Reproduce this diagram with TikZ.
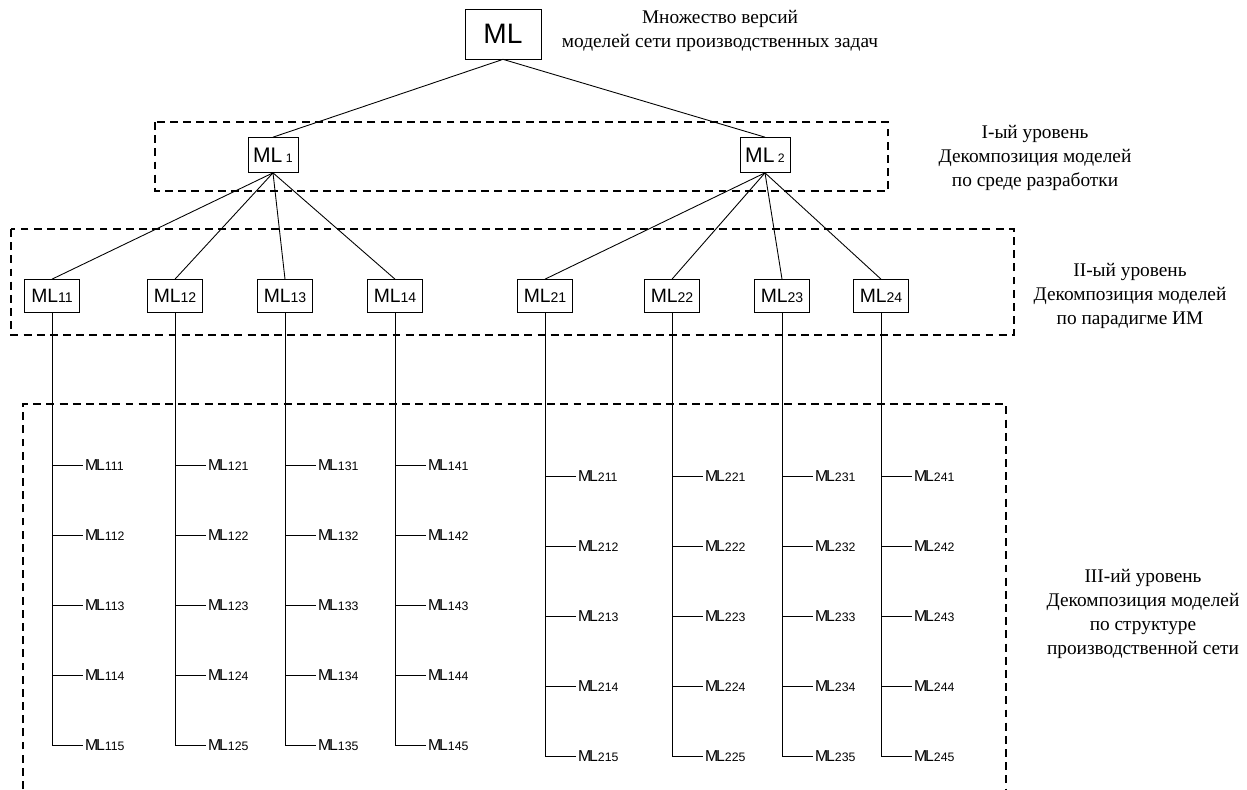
\documentclass[tikz,border=0pt]{standalone}
\usepackage{fontspec}
\setmainfont{Liberation Serif}
\setsansfont{Liberation Sans}
\usetikzlibrary{positioning}
\newcommand{\mlone}[1]{ML\,{\fontsize{7}{8}\selectfont #1}}
\newcommand{\mltwo}[1]{ML{\fontsize{8}{9}\selectfont #1}}
\newcommand{\mlleaf}[1]{M\kern-1.2pt L{\fontsize{7}{8}\selectfont #1}}

\begin{document}
\begin{tikzpicture}[x=0.02cm, y=-0.02cm,
    rootbox/.style={draw, font=\sffamily\fontsize{16}{18}\selectfont, minimum width=1.52cm, minimum height=1cm, inner sep=0pt},
    lvlone/.style={draw, font=\sffamily\fontsize{12}{14}\selectfont, minimum width=1cm, minimum height=0.7cm, inner sep=0pt},
    lvltwo/.style={draw, font=\sffamily\fontsize{11}{13}\selectfont, minimum width=1.1cm, minimum height=0.66cm, inner sep=0pt},
    leaf/.style={anchor=west, font=\sffamily\fontsize{9}{10}\selectfont, inner sep=1pt},
    note/.style={align=center, font=\fontsize{11}{13.5}\selectfont},
    levelbox/.style={line width=1.1pt, dash pattern=on 4.5pt off 3pt},
    link/.style={line width=0.5pt}]
        \useasboundingbox (0,0) rectangle (1247,789);

        \node[rootbox] (ml) at (503,34) {ML};
        \node[note] (mlnote) at (720,31) {Множество версий\\моделей сети производственных задач};

        \draw[levelbox] (155,122) rectangle (888,191);
        \node[lvlone] (ml1) at (273,155) {\mlone{1}};
        \node[lvlone] (ml2) at (765,155) {\mlone{2}};
        \node[note] (lvlnote1) at (1035,158) {I-ый уровень\\Декомпозиция моделей\\по среде разработки};
        \draw[link] (ml.south) -- (ml1.north);
        \draw[link] (ml.south) -- (ml2.north);

        \draw[levelbox] (11,229) rectangle (1014,335);
        \foreach \c/\x in {11/52,12/175,13/285,14/395,21/545,22/672,23/782,24/881}
            \node[lvltwo] (ml\c) at (\x,296) {\mltwo{\c}};
        \node[note] (lvlnote2) at (1130,296) {II-ый уровень\\Декомпозиция моделей\\по парадигме ИМ};
        \foreach \k in {1,...,4} {
            \draw[link] (ml1.south) -- (ml1\k.north);
            \draw[link] (ml2.south) -- (ml2\k.north);
        }

        \draw[levelbox] (23,789) -- (23,404) -- (1006,404) -- (1006,789);
        \node[note] (lvlnote3) at (1143,614) {III-ий уровень\\Декомпозиция моделей\\по структуре\\производственной сети};
        \foreach \c/\x in {11/52,12/175,13/285,14/395}
            \foreach \j/\y in {1/465,2/535,3/605,4/675,5/745} {
                \node[leaf] (ml\c\j) at (\x+31,\y) {\mlleaf{\c\j}};
                \draw[link] (ml\c.south) |- (ml\c\j.west);
            }
        \foreach \c/\x in {21/545,22/672,23/782,24/881}
            \foreach \j/\y in {1/476,2/546,3/616,4/686,5/756} {
                \node[leaf] (ml\c\j) at (\x+31,\y) {\mlleaf{\c\j}};
                \draw[link] (ml\c.south) |- (ml\c\j.west);
            }
    \end{tikzpicture}
\end{document}
